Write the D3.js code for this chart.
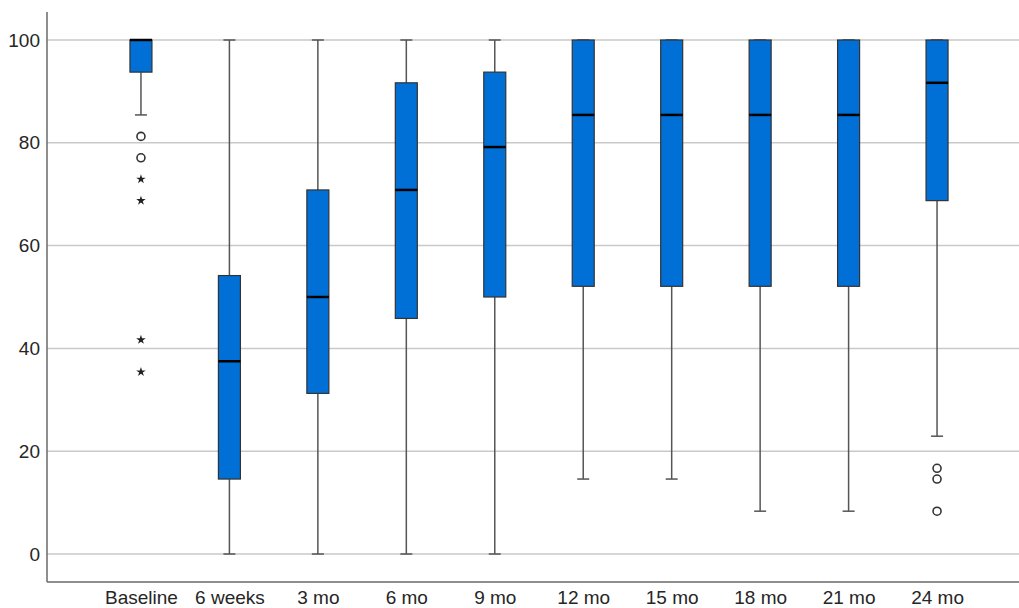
<!DOCTYPE html>
<html>
<head>
<meta charset="utf-8">
<script src="https://cdn.jsdelivr.net/npm/d3@7"></script>
<style>
  html, body { margin: 0; padding: 0; background: #fff; }
  svg { display: block; font-family: "Liberation Sans", Arial, sans-serif; }
</style>
</head>
<body>
<svg id="chart" width="1019" height="608"></svg>
<script>
// Time points
const categories = ["Baseline", "6 weeks", "3 mo", "6 mo", "9 mo", "12 mo", "15 mo", "18 mo", "21 mo", "24 mo"];
// Box-plot statistics per time point
const whiskerLow  = [85.42, 0,     0,     0,     0,     14.58, 14.58, 8.33,  8.33,  22.92];
const q1          = [93.75, 14.58, 31.25, 45.83, 50.0,  52.08, 52.08, 52.08, 52.08, 68.75];
const median      = [100,   37.5,  50.0,  70.83, 79.17, 85.42, 85.42, 85.42, 85.42, 91.67];
const q3          = [100,   54.17, 70.83, 91.67, 93.75, 100,   100,   100,   100,   100];
const whiskerHigh = [100,   100,   100,   100,   100,   100,   100,   100,   100,   100];
// Outliers: circles (mild) and stars (extreme)
const outlierCat   = ["Baseline", "Baseline", "Baseline", "Baseline", "Baseline", "Baseline", "24 mo", "24 mo", "24 mo"];
const outlierValue = [81.25, 77.08, 72.92, 68.75, 41.67, 35.42, 16.67, 14.58, 8.33];
const outlierKind  = ["circle", "circle", "star", "star", "star", "star", "circle", "circle", "circle"];
const yTicks = [0, 20, 40, 60, 80, 100];

const svg = d3.select("#chart");
const plotLeft = 47, plotRight = 1019, plotTop = 12, plotBottom = 582;

const x = d3.scalePoint().domain(categories).range([52.5, 1025.5]).padding(1);
const y = d3.scaleLinear().domain([0, 100]).range([554, 40]);

// Horizontal gridlines
svg.append("g").selectAll("line").data(yTicks).join("line")
  .attr("x1", plotLeft).attr("x2", plotRight)
  .attr("y1", d => y(d)).attr("y2", d => y(d))
  .attr("stroke", "#c9c9c9").attr("stroke-width", 1.5);

// Y axis labels
const yAxis = d3.axisLeft(y).tickValues(yTicks).tickSize(0).tickPadding(7);
svg.append("g").attr("transform", `translate(${plotLeft},0)`).call(yAxis)
  .call(g => g.select(".domain").remove())
  .selectAll("text").attr("font-size", 19).attr("fill", "#262626")
  .attr("font-family", "'Liberation Sans', Arial, sans-serif");

// X axis labels
const xAxis = d3.axisBottom(x).tickSize(0).tickPadding(9);
svg.append("g").attr("transform", `translate(0,${plotBottom})`).call(xAxis)
  .call(g => g.select(".domain").remove())
  .selectAll("text").attr("font-size", 19).attr("fill", "#262626")
  .attr("font-family", "'Liberation Sans', Arial, sans-serif");

// Axis lines
svg.append("line").attr("x1", plotLeft).attr("x2", plotLeft).attr("y1", plotTop).attr("y2", plotBottom)
  .attr("stroke", "#6a6a6a").attr("stroke-width", 1.5);
svg.append("line").attr("x1", plotLeft).attr("x2", plotRight).attr("y1", plotBottom).attr("y2", plotBottom)
  .attr("stroke", "#6a6a6a").attr("stroke-width", 1.5);

const boxW = 22, capW = 12;
const stats = categories.map((c, i) => ({
  c, lo: whiskerLow[i], q1: q1[i], med: median[i], q3: q3[i], hi: whiskerHigh[i]
}));

const g = svg.append("g").selectAll("g").data(stats).join("g");

// Whiskers
g.append("line").attr("x1", d => x(d.c)).attr("x2", d => x(d.c))
  .attr("y1", d => y(d.q3)).attr("y2", d => y(d.hi))
  .attr("stroke", "#555").attr("stroke-width", 1.5);
g.append("line").attr("x1", d => x(d.c)).attr("x2", d => x(d.c))
  .attr("y1", d => y(d.q1)).attr("y2", d => y(d.lo))
  .attr("stroke", "#555").attr("stroke-width", 1.5);
// Caps
g.append("line").attr("x1", d => x(d.c) - capW / 2).attr("x2", d => x(d.c) + capW / 2)
  .attr("y1", d => y(d.hi)).attr("y2", d => y(d.hi))
  .attr("stroke", "#555").attr("stroke-width", 1.5);
g.append("line").attr("x1", d => x(d.c) - capW / 2).attr("x2", d => x(d.c) + capW / 2)
  .attr("y1", d => y(d.lo)).attr("y2", d => y(d.lo))
  .attr("stroke", "#555").attr("stroke-width", 1.5);

// Boxes
g.append("rect")
  .attr("x", d => x(d.c) - boxW / 2).attr("width", boxW)
  .attr("y", d => y(d.q3)).attr("height", d => y(d.q1) - y(d.q3))
  .attr("fill", "#0070d6").attr("stroke", "#333").attr("stroke-width", 1.2);

// Medians
g.append("line").attr("x1", d => x(d.c) - boxW / 2).attr("x2", d => x(d.c) + boxW / 2)
  .attr("y1", d => y(d.med)).attr("y2", d => y(d.med))
  .attr("stroke", "#000").attr("stroke-width", 2.5);

// Outliers
const outliers = outlierCat.map((c, i) => ({ c, v: outlierValue[i], k: outlierKind[i] }));
svg.append("g").selectAll("circle").data(outliers.filter(d => d.k === "circle")).join("circle")
  .attr("cx", d => x(d.c)).attr("cy", d => y(d.v)).attr("r", 4)
  .attr("fill", "none").attr("stroke", "#333").attr("stroke-width", 1.6);
svg.append("g").selectAll("path").data(outliers.filter(d => d.k === "star")).join("path")
  .attr("transform", d => `translate(${x(d.c)},${y(d.v)})`)
  .attr("d", d3.symbol().type(d3.symbolStar).size(28))
  .attr("fill", "#222");
</script>
</body>
</html>
